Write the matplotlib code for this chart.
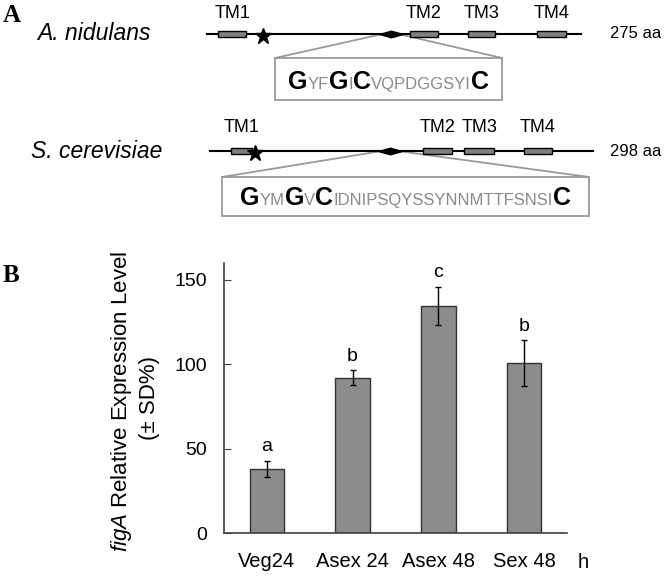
import numpy as np
import matplotlib
matplotlib.use("Agg")
import matplotlib.pyplot as plt
from matplotlib.patches import Rectangle
from matplotlib.path import Path

plt.rcParams['font.family'] = 'Liberation Sans'
plt.rcParams['mathtext.fontset'] = 'custom'
plt.rcParams['mathtext.rm'] = 'Liberation Sans'
plt.rcParams['mathtext.it'] = 'Liberation Sans:italic'

# panel B: relative expression of figA
stages = ["Veg24", "Asex 24", "Asex 48", "Sex 48"]
expression = [38.0, 92.0, 134.7, 100.8]
expression_sd = [4.7, 4.4, 11.3, 13.5]
groups = ["a", "b", "c", "b"]

# panel A: protein schemes (positions in aa)
species = ["A. nidulans", "S. cerevisiae"]
protein_len = [275, 298]
tm_names = ["TM1", "TM2", "TM3", "TM4"]
tm_an = [(8, 29), (149, 170), (192, 212), (243, 264)]
tm_sc = [(16, 33), (166, 188), (198, 221), (244, 266)]
star_pos = [41, 35]
loop_pos = [135, 140]
# (segment, conserved)
motif_an = [("G", 1), ("YF", 0), ("G", 1), ("I", 0), ("C", 1),
            ("VQPDGGSYI", 0), ("C", 1)]
motif_sc = [("G", 1), ("YM", 0), ("G", 1), ("V", 0), ("C", 1),
            ("IDNIPSQYSSYNNMTTFSNSI", 0), ("C", 1)]

# layout in pixels
rows = [
    dict(y=34, x0=207, x1=581, lab_y=13, name_x=37, box=(275, 502, 58, 100)),
    dict(y=151, x0=210, x1=593, lab_y=128, name_x=31, box=(222, 589, 177, 216)),
]
aa_x = 610

fig = plt.figure(figsize=(6.66, 5.79), dpi=100)
ax_a = fig.add_axes([0, 0, 1, 1])
ax_a.set_xlim(0, 666)
ax_a.set_ylim(579, 0)
ax_a.axis('off')

diamond = Path([(-1, 0), (0, 0.28), (1, 0), (0, -0.28), (-1, 0)],
               [Path.MOVETO, Path.LINETO, Path.LINETO, Path.LINETO,
                Path.CLOSEPOLY])

renderer = fig.canvas.get_renderer()
box_grey = '#9a9a9a'

for row, name, length, tms, star, loop, motif in zip(
        rows, species, protein_len, [tm_an, tm_sc], star_pos, loop_pos,
        [motif_an, motif_sc]):
    y, x0, x1 = row['y'], row['x0'], row['x1']
    scale = (x1 - x0) / length

    ax_a.plot([x0, x1], [y, y], color='black', lw=1.5, zorder=2)
    for (s, e), tm in zip(tms, tm_names):
        ax_a.barh(y, (e - s) * scale, left=x0 + s * scale, height=6,
                  color='#808080', edgecolor='black', lw=1, zorder=3)
        ax_a.text(x0 + (s + e) / 2 * scale, row['lab_y'], tm,
                  ha='center', va='center', fontsize=13)
    ax_a.plot(x0 + star * scale, y + 1.5, marker='*', ms=12,
              color='black', zorder=4)
    dx = x0 + loop * scale
    ax_a.plot(dx, y, marker=diamond, ms=17, color='black', zorder=4)

    bl, br, bt, bb = row['box']
    ax_a.plot([dx - 8, bl], [y, bt], color=box_grey, lw=1.3, zorder=1)
    ax_a.plot([dx + 8, br], [y, bt], color=box_grey, lw=1.3, zorder=1)
    ax_a.add_patch(Rectangle((bl, bt), br - bl, bb - bt, fill=False,
                             edgecolor=box_grey, lw=1.3))

    ax_a.text(aa_x, y, f"{length} aa", va='center', fontsize=12)
    ax_a.text(row['name_x'], y, name, style='italic', va='center',
              fontsize=16.5)

    # motif text, laid out piece by piece
    parts = []
    for seg, big in motif:
        t = ax_a.text(0, bb - 11, seg, va='baseline',
                      fontsize=18 if big else 12,
                      weight='bold' if big else 'normal',
                      color='black' if big else '#8a8a8a')
        parts.append((t, t.get_window_extent(renderer).width))
    x = (bl + br) / 2 - sum(w for _, w in parts) / 2
    for t, w in parts:
        t.set_x(x)
        x += w

ax_a.text(3, 15, "A", family='Liberation Serif', weight='bold',
          fontsize=18, va='center')
ax_a.text(3, 275, "B", family='Liberation Serif', weight='bold',
          fontsize=18, va='center')

# y label of panel B
ax_a.text(122, 401, r"$\mathit{figA}$ Relative Expression Level",
          rotation=90, ha='center', va='center', fontsize=16)
ax_a.text(149, 398, "(± SD%)", rotation=90, ha='center', va='center',
          fontsize=16)
ax_a.text(583, 562, "h", ha='center', va='center', fontsize=14.5)

# panel B
ax_b = fig.add_axes([224 / 666, 46 / 579, 343 / 666, 270 / 579])
x = np.arange(len(stages))
ax_b.bar(x, expression, width=0.4, color='#8c8c8c', edgecolor='#333333',
         lw=1, zorder=2)
ax_b.errorbar(x, expression, yerr=expression_sd, fmt='none', ecolor='black',
              elinewidth=1, capsize=2.5, capthick=1, zorder=3)
for xi, m, s, g in zip(x, expression, expression_sd, groups):
    ax_b.annotate(g, (xi, m + s), xytext=(0, 4), textcoords='offset points',
                  ha='center', va='bottom', fontsize=14)

ax_b.set_xlim(-0.5, 3.5)
ax_b.set_ylim(0, 160)
ax_b.set_yticks([0, 50, 100, 150])
ax_b.set_xticks(x, stages)
ax_b.tick_params(axis='y', direction='in', length=5, pad=12, labelsize=14,
                 color='#404040')
ax_b.tick_params(axis='x', length=0, pad=14, labelsize=14.5)
for side in ['top', 'right']:
    ax_b.spines[side].set_visible(False)
for side in ['left', 'bottom']:
    ax_b.spines[side].set_color('#404040')
    ax_b.spines[side].set_linewidth(1.2)

fig.savefig("out.png", dpi=100)
